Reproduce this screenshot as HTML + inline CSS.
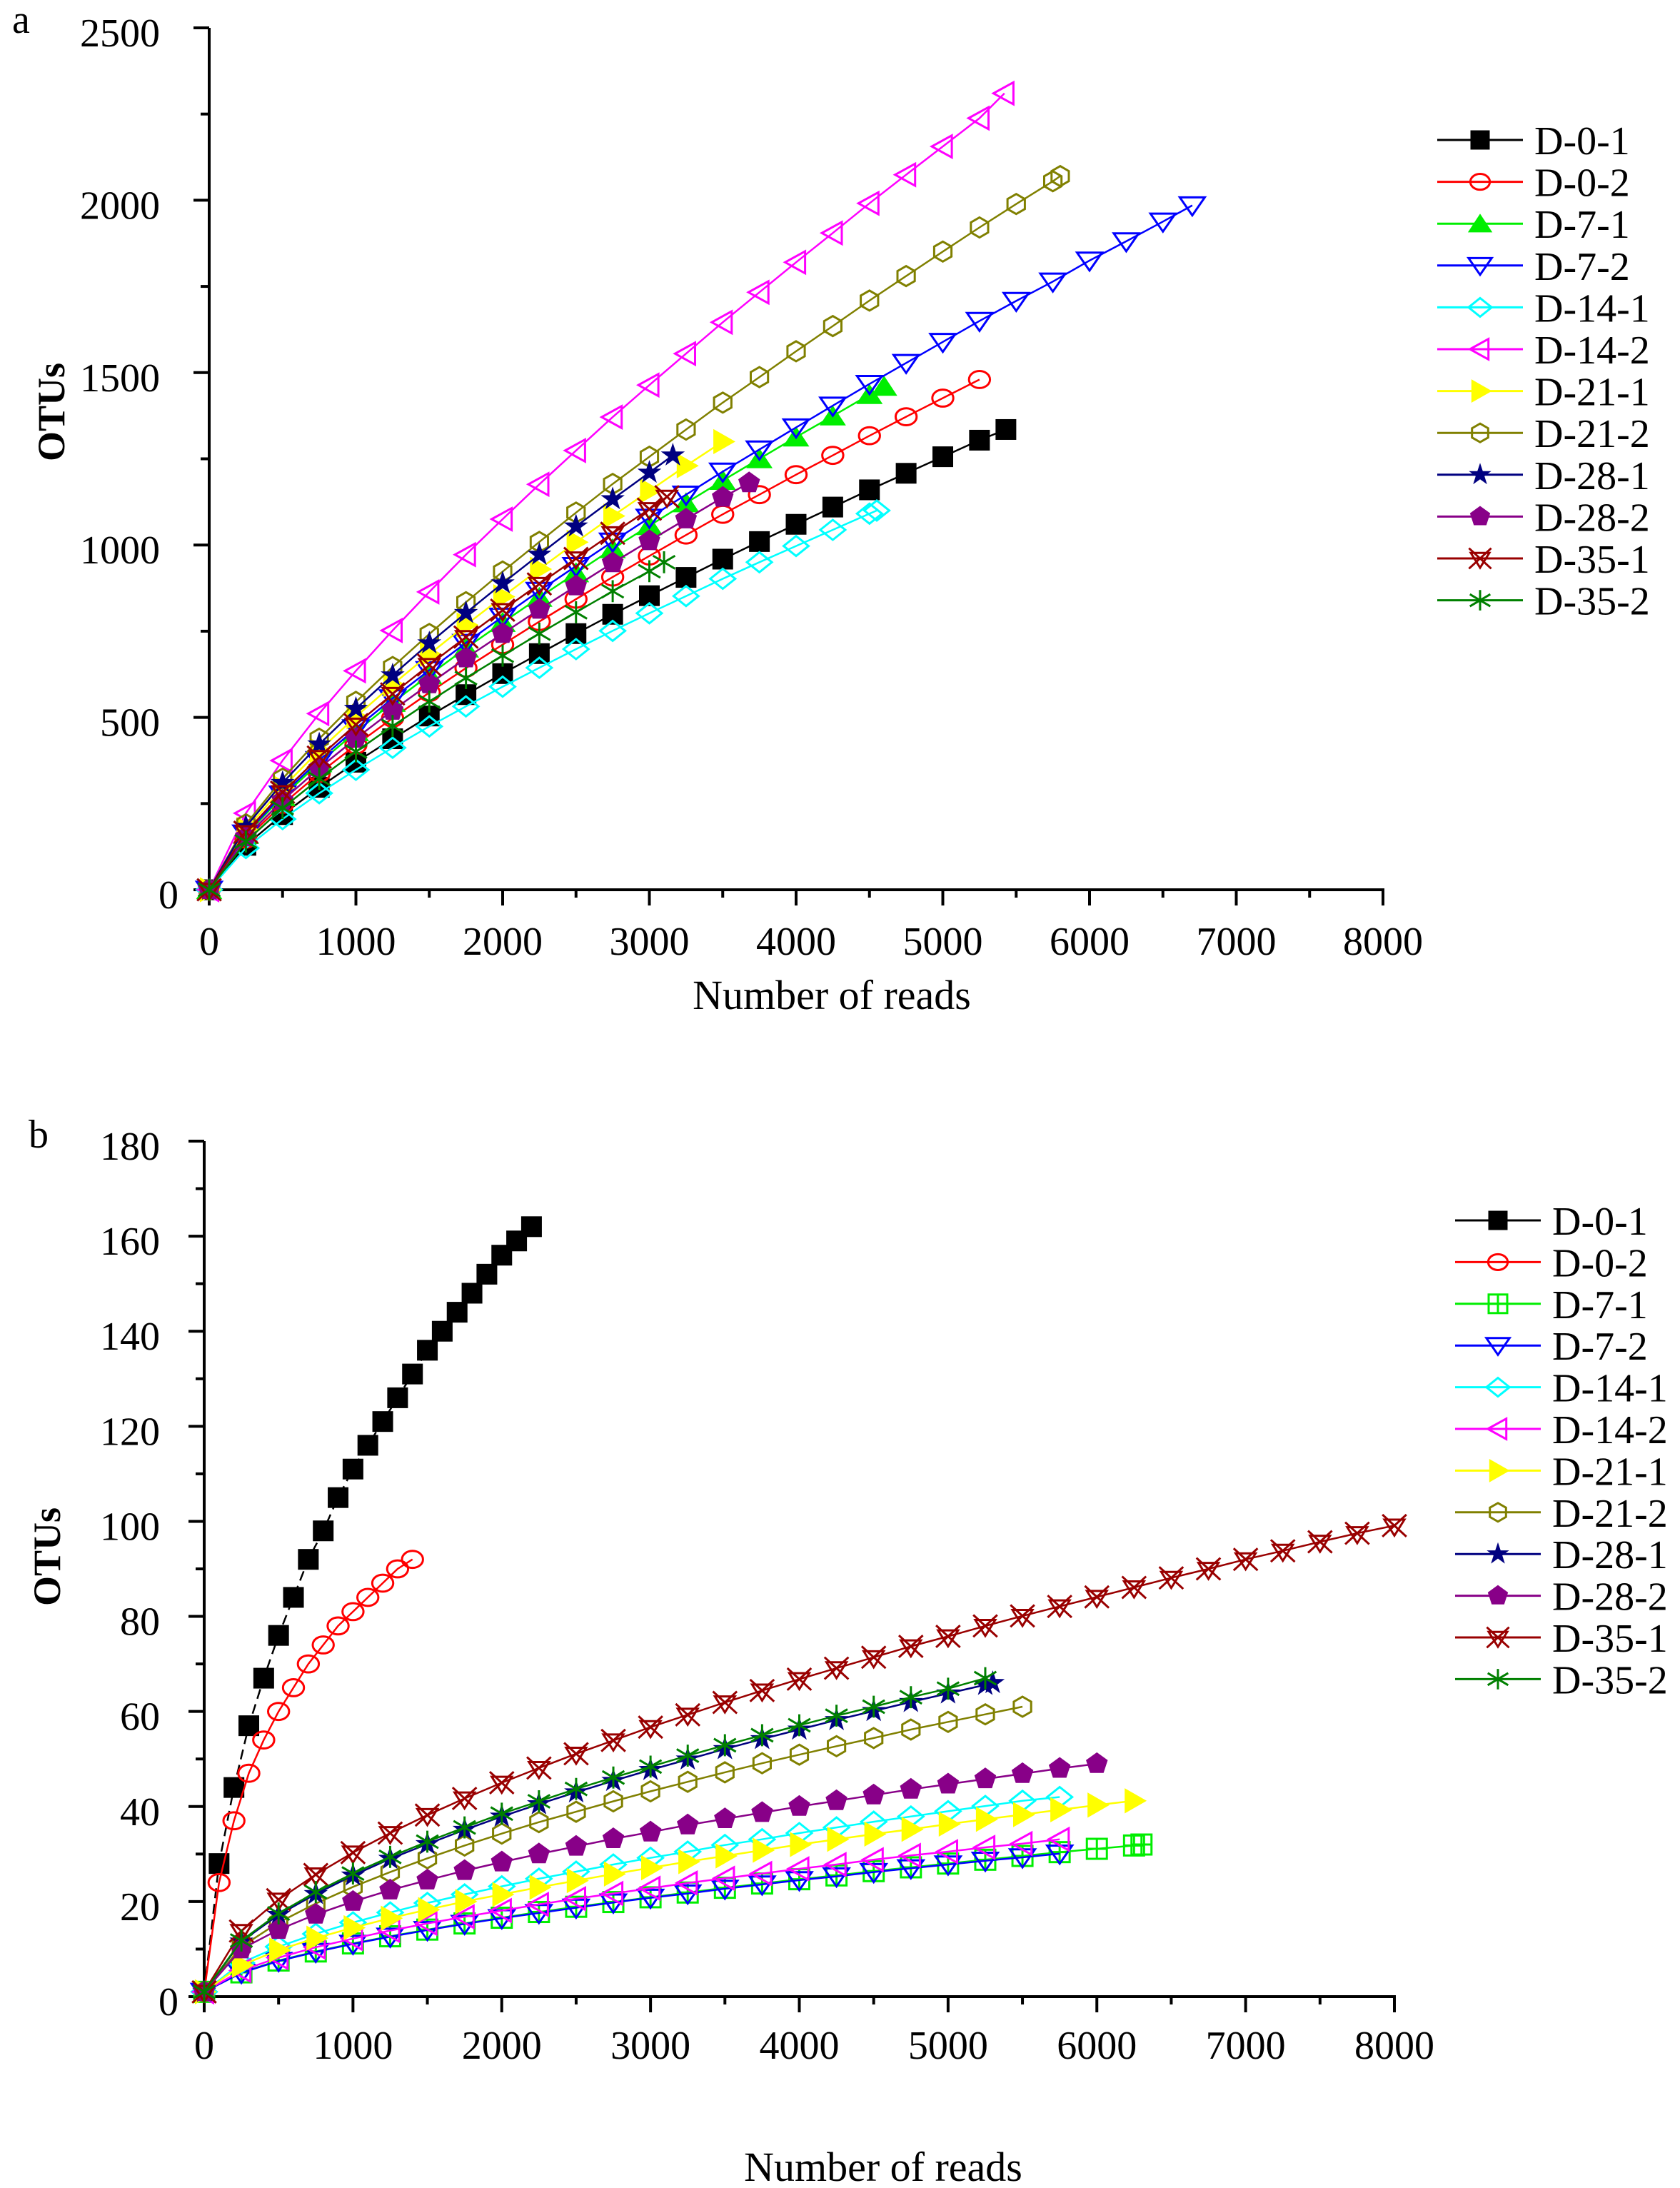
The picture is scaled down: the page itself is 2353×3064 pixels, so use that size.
<!DOCTYPE html>
<html><head><meta charset="utf-8"><title>Rarefaction curves</title>
<style>
html,body{margin:0;padding:0;background:#fff;}
svg{display:block;}
text{font-family:"Liberation Serif",serif;fill:#000;}
</style></head>
<body>
<svg id="fig" width="2353" height="3064" viewBox="0 0 2353 3064" xmlns="http://www.w3.org/2000/svg">
  <rect x="0" y="0" width="2353" height="3064" fill="#fff"/>
  <text x="17" y="46" font-size="56">a</text>
  <text x="40" y="1607" font-size="56">b</text>
  <g id="chartA"></g>
  <g id="chartB"></g>
</svg>
<script>
// ---------- shared data ----------
const seriesNames = ['D-0-1','D-0-2','D-7-1','D-7-2','D-14-1','D-14-2','D-21-1','D-21-2','D-28-1','D-28-2','D-35-1','D-35-2'];
const xTickLabels = ['0','1000','2000','3000','4000','5000','6000','7000','8000'];
const aYTickLabels = ['0','500','1000','1500','2000','2500'];
const bYTickLabels = ['0','20','40','60','80','100','120','140','160','180'];

// ---------- chart a data (OTUs at 0, 250, 500 ... reads; last value at aEndReads) ----------
const aStep = [250,250,250,250,250,250,250,250,250,250,250,250];
const aEndReads = [5430,5250,4600,6700,4550,5420,3500,5800,3160,3680,3120,3100];
const a_D01 = [0,129,218,297,370,438,504,566,627,685,743,799,853,906,959,1010,1060,1110,1160,1208,1256,1304,1335];
const a_D02 = [0,147,248,338,420,498,572,643,711,778,843,907,968,1029,1089,1146,1204,1260,1317,1372,1426,1480];
const a_D71 = [0,160,270,368,458,543,623,701,775,848,919,989,1056,1122,1187,1250,1313,1374,1436,1460];
const a_D72 = [0,163,276,376,468,555,637,716,792,867,939,1010,1079,1146,1213,1277,1341,1404,1467,1528,1589,1650,1708,1764,1825,1881,1938,1985];
const a_D141 = [0,121,205,280,348,412,474,532,589,644,698,751,802,852,902,950,997,1044,1091,1100];
const a_D142 = [0,222,375,511,635,752,864,972,1075,1176,1274,1371,1464,1555,1646,1733,1820,1905,1991,2074,2156,2238,2310];
const a_D211 = [0,175,296,404,502,595,683,768,850,930,1008,1084,1157,1230,1300];
const a_D212 = [0,190,322,438,545,646,742,834,923,1009,1094,1177,1256,1335,1413,1487,1562,1635,1709,1780,1851,1921,1989,2055,2070];
const a_D281 = [0,183,310,422,525,622,715,803,889,972,1054,1133,1210,1260];
const a_D282 = [0,153,259,353,439,520,597,672,743,813,881,948,1012,1075,1138,1180];
const a_D351 = [0,167,283,385,479,568,652,733,811,887,961,1034,1104,1140];
const a_D352 = [0,140,237,322,401,475,546,614,679,743,805,866,924,950];
const aSeries = [a_D01,a_D02,a_D71,a_D72,a_D141,a_D142,a_D211,a_D212,a_D281,a_D282,a_D351,a_D352];

// ---------- chart b data ----------
const bStep = [100,100,250,250,250,250,250,250,250,250,250,250];
const bEndReads = [2200,1400,6300,5750,5750,5750,6250,5500,5300,6000,8000,5250];
const b_D01 = [1,28,44,57,67,76,84,92,98,105,111,116,121,126,131,136,140,144,148,152,156,159,162];
const b_D02 = [1,24,37,47,54,60,65,70,74,78,81,84,87,90,92];
const b_D71 = [1,5.1,7.6,9.5,11.2,12.7,14.1,15.4,16.6,17.8,18.9,19.9,20.9,21.9,22.9,23.8,24.7,25.5,26.4,27.2,28.0,28.8,29.6,30.4,31.1,31.8,32];
const b_D72 = [1,5.0,7.5,9.4,11.1,12.6,14.0,15.3,16.5,17.6,18.7,19.8,20.8,21.7,22.7,23.6,24.5,25.3,26.2,27.0,27.8,28.6,29.3,30.1];
const b_D141 = [1,7.1,10.5,13.2,15.6,17.7,19.7,21.5,23.2,24.8,26.3,27.8,29.2,30.5,31.9,33.1,34.4,35.6,36.8,37.9,39.0,40.1,41.2,42.0];
const b_D142 = [1,5.5,8.2,10.4,12.2,13.9,15.4,16.8,18.1,19.4,20.6,21.7,22.8,23.9,24.9,25.9,26.9,27.8,28.8,29.7,30.5,31.4,32.2,33.1];
const b_D211 = [1,6.6,9.8,12.3,14.5,16.5,18.3,20.0,21.5,23.0,24.4,25.8,27.1,28.4,29.6,30.8,32.0,33.1,34.2,35.2,36.3,37.3,38.3,39.3,40.3,41.2];
const b_D212 = [1,10.5,15.6,19.6,23.1,26.2,29.1,31.8,34.3,36.7,38.9,41.1,43.2,45.2,47.2,49.1,50.9,52.7,54.4,56.2,57.8,59.4,61.0];
const b_D281 = [1,11.6,17.2,21.6,25.5,29.0,32.1,35.1,37.9,40.5,43.0,45.4,47.7,49.9,52.1,54.2,56.2,58.2,60.1,62.0,63.8,65.6,66];
const b_D282 = [1,10,14.1,17.3,20,22.4,24.5,26.5,28.3,30,31.6,33.2,34.6,36.1,37.4,38.7,40,41.2,42.4,43.6,44.7,45.8,46.9,48.0,49.0];
const b_D351 = [1,13.8,20.4,25.7,30.3,34.4,38.2,41.7,45.0,48.1,51.1,53.9,56.7,59.3,61.9,64.4,66.8,69.1,71.4,73.7,75.8,78.0,80.1,82.1,84.1,86.1,88.1,90.0,92.0,93.8,95.7,97.5,99.1];
const b_D352 = [1,11.8,17.5,22.0,25.9,29.4,32.6,35.6,38.5,41.1,43.7,46.1,48.4,50.7,52.9,55.0,57.1,59.1,61.0,63.0,64.8,67];
const bSeries = [b_D01,b_D02,b_D71,b_D72,b_D141,b_D142,b_D211,b_D212,b_D281,b_D282,b_D351,b_D352];

// ---------- styles ----------
const colors = ['#000000','#ff0000','#00ee00','#0000ff','#00ffff','#ff00ff','#ffff00','#808000','#000080','#880088','#990000','#008000'];
const aMarkers = ['square','circle','triUp','triDown','diamond','triLeft','triRight','hexagon','star','pentagon','bowtie','asterisk'];
const bMarkers = ['square','circle','squarePlus','triDown','diamond','triLeft','triRight','hexagon','star','pentagon','bowtie','asterisk'];
const NS = 'http://www.w3.org/2000/svg';

function mk(tag, attrs, parent){
  const e = document.createElementNS(NS, tag);
  for (const k in attrs) e.setAttribute(k, attrs[k]);
  parent.appendChild(e);
  return e;
}
function poly(pts){ return pts.map(p=>p[0].toFixed(1)+','+p[1].toFixed(1)).join(' '); }
function reg(n, r, cx, cy, rot){
  const pts=[]; for(let i=0;i<n;i++){const a=rot+i*2*Math.PI/n; pts.push([cx+r*Math.cos(a), cy+r*Math.sin(a)]);} return pts;
}
function drawMarker(g, type, cx, cy, col, r){
  let el;
  const open = {fill:'none', stroke:col, 'stroke-width':3};
  const filled = {fill:col, stroke:col, 'stroke-width':1};
  if (type==='square') el = mk('rect', Object.assign({x:cx-r, y:cy-r, width:2*r, height:2*r}, filled), g);
  else if (type==='squarePlus'){ el = mk('g',{},g); mk('rect', Object.assign({x:cx-r,y:cy-r,width:2*r,height:2*r},open), el); mk('path',{d:`M${cx-r},${cy}H${cx+r}M${cx},${cy-r}V${cy+r}`,stroke:col,'stroke-width':3}, el); }
  else if (type==='circle') el = mk('ellipse', Object.assign({cx:cx, cy:cy, rx:r*1.05, ry:r*0.85}, open), g);
  else if (type==='triUp') el = mk('polygon', Object.assign({points:poly([[cx,cy-r],[cx+r*1.25,cy+r*0.9],[cx-r*1.25,cy+r*0.9]])}, filled), g);
  else if (type==='triDown') el = mk('polygon', Object.assign({points:poly([[cx-r*1.25,cy-r*0.8],[cx+r*1.25,cy-r*0.8],[cx,cy+r]])}, open), g);
  else if (type==='triLeft') el = mk('polygon', Object.assign({points:poly([[cx-r*1.1,cy],[cx+r*0.9,cy-r*1.1],[cx+r*0.9,cy+r*1.1]])}, open), g);
  else if (type==='triRight') el = mk('polygon', Object.assign({points:poly([[cx+r*1.2,cy],[cx-r*0.9,cy-r*1.2],[cx-r*0.9,cy+r*1.2]])}, filled), g);
  else if (type==='diamond') el = mk('polygon', Object.assign({points:poly([[cx,cy-r],[cx+r*1.25,cy],[cx,cy+r],[cx-r*1.25,cy]])}, open), g);
  else if (type==='hexagon') el = mk('polygon', Object.assign({points:poly(reg(6,r,cx,cy,-Math.PI/2))}, open), g);
  else if (type==='pentagon') el = mk('polygon', Object.assign({points:poly(reg(5,r*1.1,cx,cy,-Math.PI/2))}, filled), g);
  else if (type==='star'){ const pts=[]; for(let i=0;i<10;i++){const a=-Math.PI/2+i*Math.PI/5; const rr=i%2?r*0.45:r*1.15; pts.push([cx+rr*Math.cos(a),cy+rr*Math.sin(a)]);} el = mk('polygon', Object.assign({points:poly(pts)}, filled), g); }
  else if (type==='bowtie') el = mk('path', {d:`M${cx-r*1.2},${cy-r*1.1}L${cx+r*1.2},${cy+r*1.1}M${cx+r*1.2},${cy-r*1.1}L${cx-r*1.2},${cy+r*1.1}M${cx-r},${cy-r*0.6}H${cx+r}L${cx},${cy+r}Z`, fill:'none', stroke:col, 'stroke-width':3}, g);
  else if (type==='asterisk') el = mk('path', {d:`M${cx},${cy-r*1.1}V${cy+r*1.1}M${cx-r*1.1},${cy-r*0.65}L${cx+r*1.1},${cy+r*0.65}M${cx+r*1.1},${cy-r*0.65}L${cx-r*1.1},${cy+r*0.65}`, fill:'none', stroke:col, 'stroke-width':3}, g);
  return el;
}

function drawChart(cfg){
  const root = document.getElementById(cfg.id);
  const xs = v => cfg.x0 + v/8000*(cfg.x1-cfg.x0);
  const ys = v => cfg.y0 - v/cfg.ymax*(cfg.y0-cfg.yTop);

  const ax = mk('g',{},root);
  
  
  mk('line',{x1:cfg.x0,y1:cfg.yTop,x2:cfg.x0,y2:cfg.y0,stroke:'#000','stroke-width':4},ax);
  mk('line',{x1:cfg.x0-2,y1:cfg.y0,x2:cfg.x1+2,y2:cfg.y0,stroke:'#000','stroke-width':4},ax);

  const yMajor = cfg.ymax/(cfg.yLabels.length-1);
  for (let i=0;i<cfg.yLabels.length;i++){
    const v = Number(cfg.yLabels[i]); const y = ys(v);
    mk('line',{x1:cfg.x0-22,y1:y,x2:cfg.x0,y2:y,stroke:'#000','stroke-width':4},ax);
    if (i<cfg.yLabels.length-1) mk('line',{x1:cfg.x0-12,y1:ys(v+yMajor/2),x2:cfg.x0,y2:ys(v+yMajor/2),stroke:'#000','stroke-width':4},ax);
    const t = mk('text',{x:(cfg.yLabels[i]==='0'?250:224),y:y+26,'font-size':56,'text-anchor':'end'},ax);
    t.textContent = cfg.yLabels[i];
    
    
  }
  for (let i=0;i<xTickLabels.length;i++){
    const v = Number(xTickLabels[i]); const x = xs(v);
    mk('line',{x1:x,y1:cfg.y0,x2:x,y2:cfg.y0+22,stroke:'#000','stroke-width':4},ax);
    if (i<xTickLabels.length-1) mk('line',{x1:xs(v+500),y1:cfg.y0,x2:xs(v+500),y2:cfg.y0+11,stroke:'#000','stroke-width':4},ax);
    const t = mk('text',{x:x,y:cfg.xLabelY,'font-size':56,'text-anchor':'middle'},ax);
    t.textContent = xTickLabels[i];
    
    
  }
  const xt = mk('text',{x:cfg.xTitleX,y:cfg.xTitleY,'font-size':58,'text-anchor':'middle'},root);
  xt.textContent = 'Number of reads';
  
  
  const yt = mk('text',{x:0,y:0,'font-size':54,'font-weight':'bold','text-anchor':'middle',transform:`translate(${cfg.yTitleX},${cfg.yTitleY}) rotate(-90)`},root);
  yt.textContent = 'OTUs';
  
  

  for (let s=0;s<cfg.series.length;s++){
    const vals = cfg.series[s]; const col = colors[s];
    const g = mk('g',{},root);
    
    
    const pts = vals.map((v,i)=>[xs(i===vals.length-1?cfg.end[s]:i*cfg.step[s]), ys(v)]);
    const line = mk('polyline',{points:poly(pts),fill:'none',stroke:col,'stroke-width':2.5},g);
    if (cfg.dashFirst && s===0) line.setAttribute('stroke-dasharray','14,8');
    
    
    for (const p of pts){
      const m = drawMarker(g, cfg.markers[s], p[0], p[1], col, cfg.mr);
      
      
    }
  }

  for (let s=0;s<seriesNames.length;s++){
    const y = cfg.legY + s*cfg.legStep; const col = colors[s];
    const lg = mk('g',{},root);
    
    
    mk('line',{x1:cfg.legX0,y1:y,x2:cfg.legX0+120,y2:y,stroke:col,'stroke-width':3},lg);
    drawMarker(lg, cfg.markers[s], cfg.legX0+60, y, col, 13);
    const t = mk('text',{x:cfg.legX0+136,y:y+20,'font-size':56},lg);
    t.textContent = seriesNames[s];
  }
}

drawChart({id:'chartA', prefix:'a-', x0:293, x1:1937, y0:1246, yTop:39, ymax:2500, mr:14,
  yLabels:aYTickLabels, xLabelY:1337, xTitleX:1165, xTitleY:1413, yTitleX:90, yTitleY:577,
  series:aSeries, step:aStep, end:aEndReads, markers:aMarkers,
  legX0:2013, legY:196, legStep:58.6});
drawChart({id:'chartB', prefix:'b-', x0:286, x1:1953, y0:2796, yTop:1598, ymax:180, mr:14,
  yLabels:bYTickLabels, xLabelY:2883, xTitleX:1237, xTitleY:3054, yTitleX:84, yTitleY:2180,
  series:bSeries, step:bStep, end:bEndReads, markers:bMarkers, dashFirst:true,
  legX0:2038, legY:1709, legStep:58.4});
</script>
</body></html>
